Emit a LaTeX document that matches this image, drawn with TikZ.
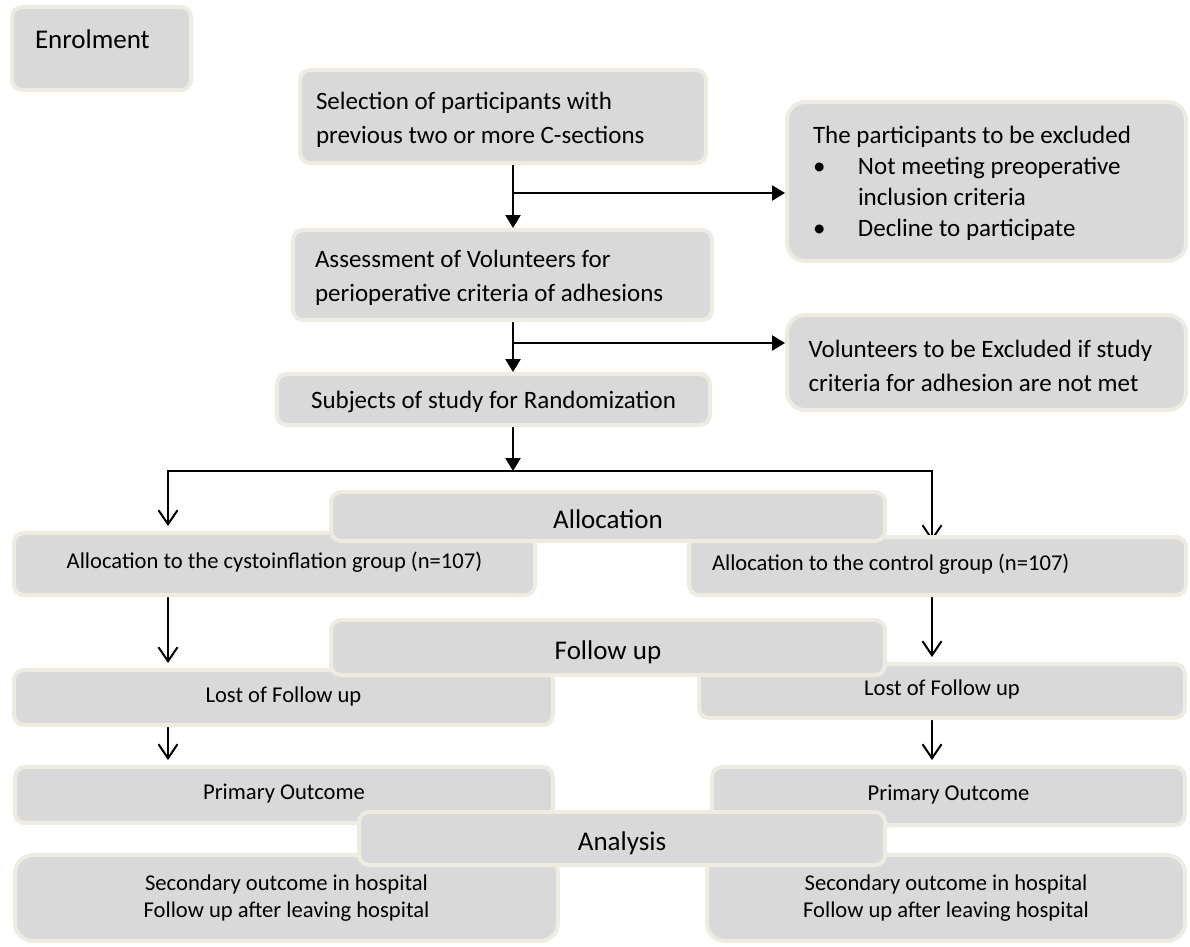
\documentclass[tikz,border=0pt]{standalone}
\usepackage{fontspec}
\setmainfont{Carlito}
\usetikzlibrary{arrows.meta}
\definecolor{boxfill}{HTML}{D9D9D9}
\definecolor{boxedge}{HTML}{EEECE1}
\pgfdeclarelayer{back}
\pgfsetlayers{back,main}
\tikzset{
  box/.style={draw=boxedge, fill=boxfill, line width=4pt, rounded corners=10pt, inner sep=0pt},
  bigbox/.style={box, rounded corners=18pt},
  bodytext/.style={font=\fontsize{25}{34}\selectfont, align=flush left, execute at begin node=\strut},
  smalltext/.style={font=\fontsize{22.6}{27}\selectfont, align=center},
  smallline/.style={smalltext, text height=15pt, text depth=6pt},
  headtext/.style={font=\fontsize{27}{32}\selectfont, text height=24pt, text depth=0pt},
  solidarrow/.style={line width=2.5pt, -{Triangle[length=13pt,width=15pt]}},
  openarrow/.style={line width=2pt, -{Straight Barb[length=14pt,width=19pt,line width=2pt]}, shorten >=5pt}
}
\begin{document}
\begin{tikzpicture}[x=1pt,y=-1pt]
\useasboundingbox (0,0) rectangle (1190,946);
% enrolment
\node[box, font=\fontsize{27}{32}\selectfont, minimum width=179pt, minimum height=83pt, text width=133pt, align=flush left, text height=19pt, text depth=19pt] (enrol) at (101.5,48.5) {Enrolment};
\node[box, bodytext, minimum width=406pt, minimum height=93pt, text width=374pt] (select) at (503,116.5) {Selection of participants with\\previous two or more C-sections};
\node[box, bodytext, minimum width=419pt, minimum height=90pt, text width=375pt] (assess) at (502.5,275) {Assessment of Volunteers for\\perioperative criteria of adhesions};
\node[box, font=\fontsize{25}{34}\selectfont, minimum width=433pt, minimum height=51pt, text depth=0pt] (subj) at (493.5,399.5) {Subjects of study for Randomization};
\node[bigbox, bodytext, font=\fontsize{25}{31}\selectfont, minimum width=399pt, minimum height=159pt, text width=347pt] (excl1) at (986.5,181.5) {The participants to be excluded\\
  \makebox[45pt][l]{\textbullet}Not meeting preoperative\\
  \hspace*{45pt}inclusion criteria\\
  \makebox[45pt][l]{\textbullet}Decline to participate};
\node[bigbox, bodytext, minimum width=399pt, minimum height=95pt, text width=356pt] (excl2) at (986.5,362.5) {Volunteers to be Excluded if study\\criteria for adhesion are not met};
% two arms
\node[box, smallline, minimum width=521pt, minimum height=62pt] (allocL) at (274.5,564) {Allocation to the cystoinflation group (n=107)};
\node[box, smallline, minimum width=497pt, minimum height=58pt, text width=451pt, align=flush left] (allocR) at (937.5,566) {Allocation to the control group (n=107)};
\node[box, smallline, minimum width=539pt, minimum height=55pt] (lostL) at (283.5,697.5) {Lost of Follow up};
\node[box, smallline, minimum width=486pt, minimum height=54pt] (lostR) at (942,691) {Lost of Follow up};
\node[box, smallline, minimum width=538pt, minimum height=56pt] (primL) at (284,795) {Primary Outcome};
\node[box, smallline, minimum width=473pt, minimum height=58pt] (primR) at (948.5,796) {Primary Outcome};
\node[bigbox, smalltext, minimum width=543pt, minimum height=86pt] (secL) at (286.5,898) {Secondary outcome in hospital\\Follow up after leaving hospital};
\node[bigbox, smalltext, minimum width=478pt, minimum height=86pt] (secR) at (946,898) {Secondary outcome in hospital\\Follow up after leaving hospital};
% stage headers
\node[box, headtext, minimum width=554pt, minimum height=49pt] (allochead) at (608,516.5) {Allocation};
\node[box, headtext, minimum width=554pt, minimum height=55pt] (followhead) at (608,647.5) {Follow up};
\node[box, headtext, minimum width=526pt, minimum height=53pt] (analysishead) at (622,838.5) {Analysis};
% connectors
\coordinate (cut1) at (513,193);
\coordinate (cut2) at (513,343);
\coordinate (fork) at (513,471);
\coordinate (forkL) at (168,471);
\coordinate (forkR) at (932,471);
\begin{pgfonlayer}{back}
\draw[solidarrow] (select.south -| cut1) -- (assess.north -| cut1);
\draw[solidarrow] (cut1) -- (cut1 -| excl1.west);
\draw[solidarrow] (assess.south -| cut2) -- (subj.north -| cut2);
\draw[solidarrow] (cut2) -- (cut2 -| excl2.west);
\draw[solidarrow] (subj.south -| fork) -- (fork);
\draw[openarrow] (fork) -| (forkL |- allocL.north);
\draw[openarrow, shorten >=-6pt] (fork) -| (forkR |- allocR.north);
\draw[openarrow] (allocL.south -| forkL) -- (lostL.north -| forkL);
\draw[openarrow] (lostL.south -| forkL) -- (primL.north -| forkL);
\draw[openarrow] (allocR.south -| forkR) -- (lostR.north -| forkR);
\draw[openarrow] (lostR.south -| forkR) -- (primR.north -| forkR);
\end{pgfonlayer}
\end{tikzpicture}
\end{document}
